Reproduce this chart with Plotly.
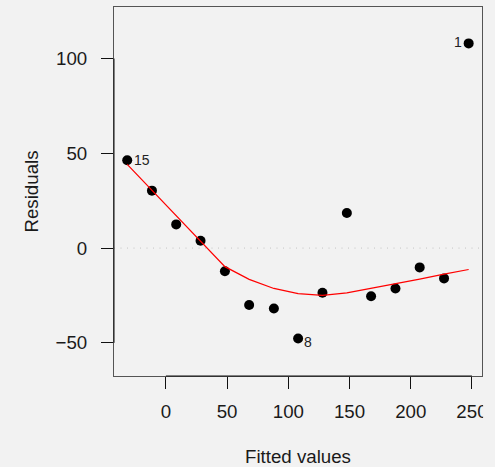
import plotly.graph_objects as go

# Data
fitted = [-31.6, -11.4, 8.4, 28.3, 48.2, 68.0, 88.2, 108.0, 127.9, 147.8,
          167.6, 187.5, 207.3, 227.2, 247.3]
residuals = [46.3, 30.3, 12.5, 3.9, -12.2, -30.0, -31.9, -47.7, -23.6, 18.5,
             -25.4, -21.3, -10.2, -16.0, 108.0]
smooth = [44.2, 30.6, 17.1, 3.8, -9.8, -16.5, -21.3, -24.0, -25.0, -23.6,
          -21.3, -19.0, -16.4, -13.7, -11.3]
obs_ids = [15, 14, 13, 12, 11, 10, 9, 8, 7, 6, 5, 4, 3, 2, 1]
labelled = [15, 8, 1]
xticks = [0, 50, 100, 150, 200, 250]
yticks = [-50, 0, 50, 100]

BG = "#f2f2f2"
FONT = "Liberation Sans, Arial, Helvetica, sans-serif"
FS = 18.7

fig = go.Figure()
fig.add_trace(go.Scatter(x=fitted, y=residuals, mode="markers",
                         marker=dict(color="black", size=10, line=dict(width=0)),
                         showlegend=False, hoverinfo="x+y"))
fig.add_trace(go.Scatter(x=fitted, y=smooth, mode="lines",
                         line=dict(color="red", width=1.2),
                         showlegend=False))

shapes = [
    dict(type="line", xref="paper", yref="y", x0=0, x1=1, y0=0, y1=0,
         line=dict(color="#c4c4c4", width=1, dash="1px,5.5px"), layer="below"),
    # axis segments (darker, over the tick range)
    dict(type="line", xref="paper", yref="y", x0=0, x1=0, y0=yticks[0], y1=yticks[-1],
         line=dict(color="#111111", width=1)),
    dict(type="line", xref="x", yref="paper", x0=xticks[0], x1=xticks[-1], y0=0, y1=0,
         line=dict(color="#111111", width=1)),
    # cover to clip the last tick label at the figure edge
    dict(type="rect", xref="paper", yref="paper", x0=1.003, x1=1.2, y0=-0.3, y1=-0.05,
         fillcolor=BG, line=dict(width=0), layer="above"),
]

annotations = []
for oid in labelled:
    i = obs_ids.index(oid)
    if oid == 1:
        annotations.append(dict(x=fitted[i], y=residuals[i], text=str(oid),
                                showarrow=False, xanchor="right", yanchor="middle",
                                xshift=-5, yshift=1, font=dict(size=14, color="#222", family=FONT)))
    elif oid == 8:
        annotations.append(dict(x=fitted[i], y=residuals[i], text=str(oid),
                                showarrow=False, xanchor="left", yanchor="middle",
                                xshift=4, yshift=-4, font=dict(size=14, color="#222", family=FONT)))
    else:
        annotations.append(dict(x=fitted[i], y=residuals[i], text=str(oid),
                                showarrow=False, xanchor="left", yanchor="middle",
                                xshift=5, yshift=0, font=dict(size=14, color="#222", family=FONT)))

fig.update_layout(
    width=495, height=467,
    margin=dict(l=114, r=13, t=7, b=91, autoexpand=False),
    paper_bgcolor=BG, plot_bgcolor=BG,
    font=dict(family=FONT, size=FS, color="#1a1a1a"),
    shapes=shapes, annotations=annotations,
    xaxis=dict(range=[-42.4, 258.2], tickvals=xticks, ticktext=[str(v) for v in xticks],
               showgrid=False, zeroline=False, showline=True, mirror=True, automargin=False,
               linecolor="#555555", linewidth=1, ticks="outside", ticklen=12,
               tickcolor="#111111", tickwidth=1, ticklabelstandoff=7,
               title=dict(text="Fitted values", standoff=29, font=dict(size=FS))),
    yaxis=dict(range=[-67.5, 127.2], tickvals=yticks, ticktext=["\u221250", "0", "50", "100"],
               showgrid=False, zeroline=False, showline=True, mirror=True, automargin=False,
               linecolor="#555555", linewidth=1, ticks="outside", ticklen=12,
               tickcolor="#111111", tickwidth=1, ticklabelstandoff=10,
               title=dict(text="Residuals", standoff=12, font=dict(size=FS))),
)

fig.write_html("out.html", config={"displayModeBar": False},
               post_script="document.body.style.margin='0';document.body.style.background='#f2f2f2';")
